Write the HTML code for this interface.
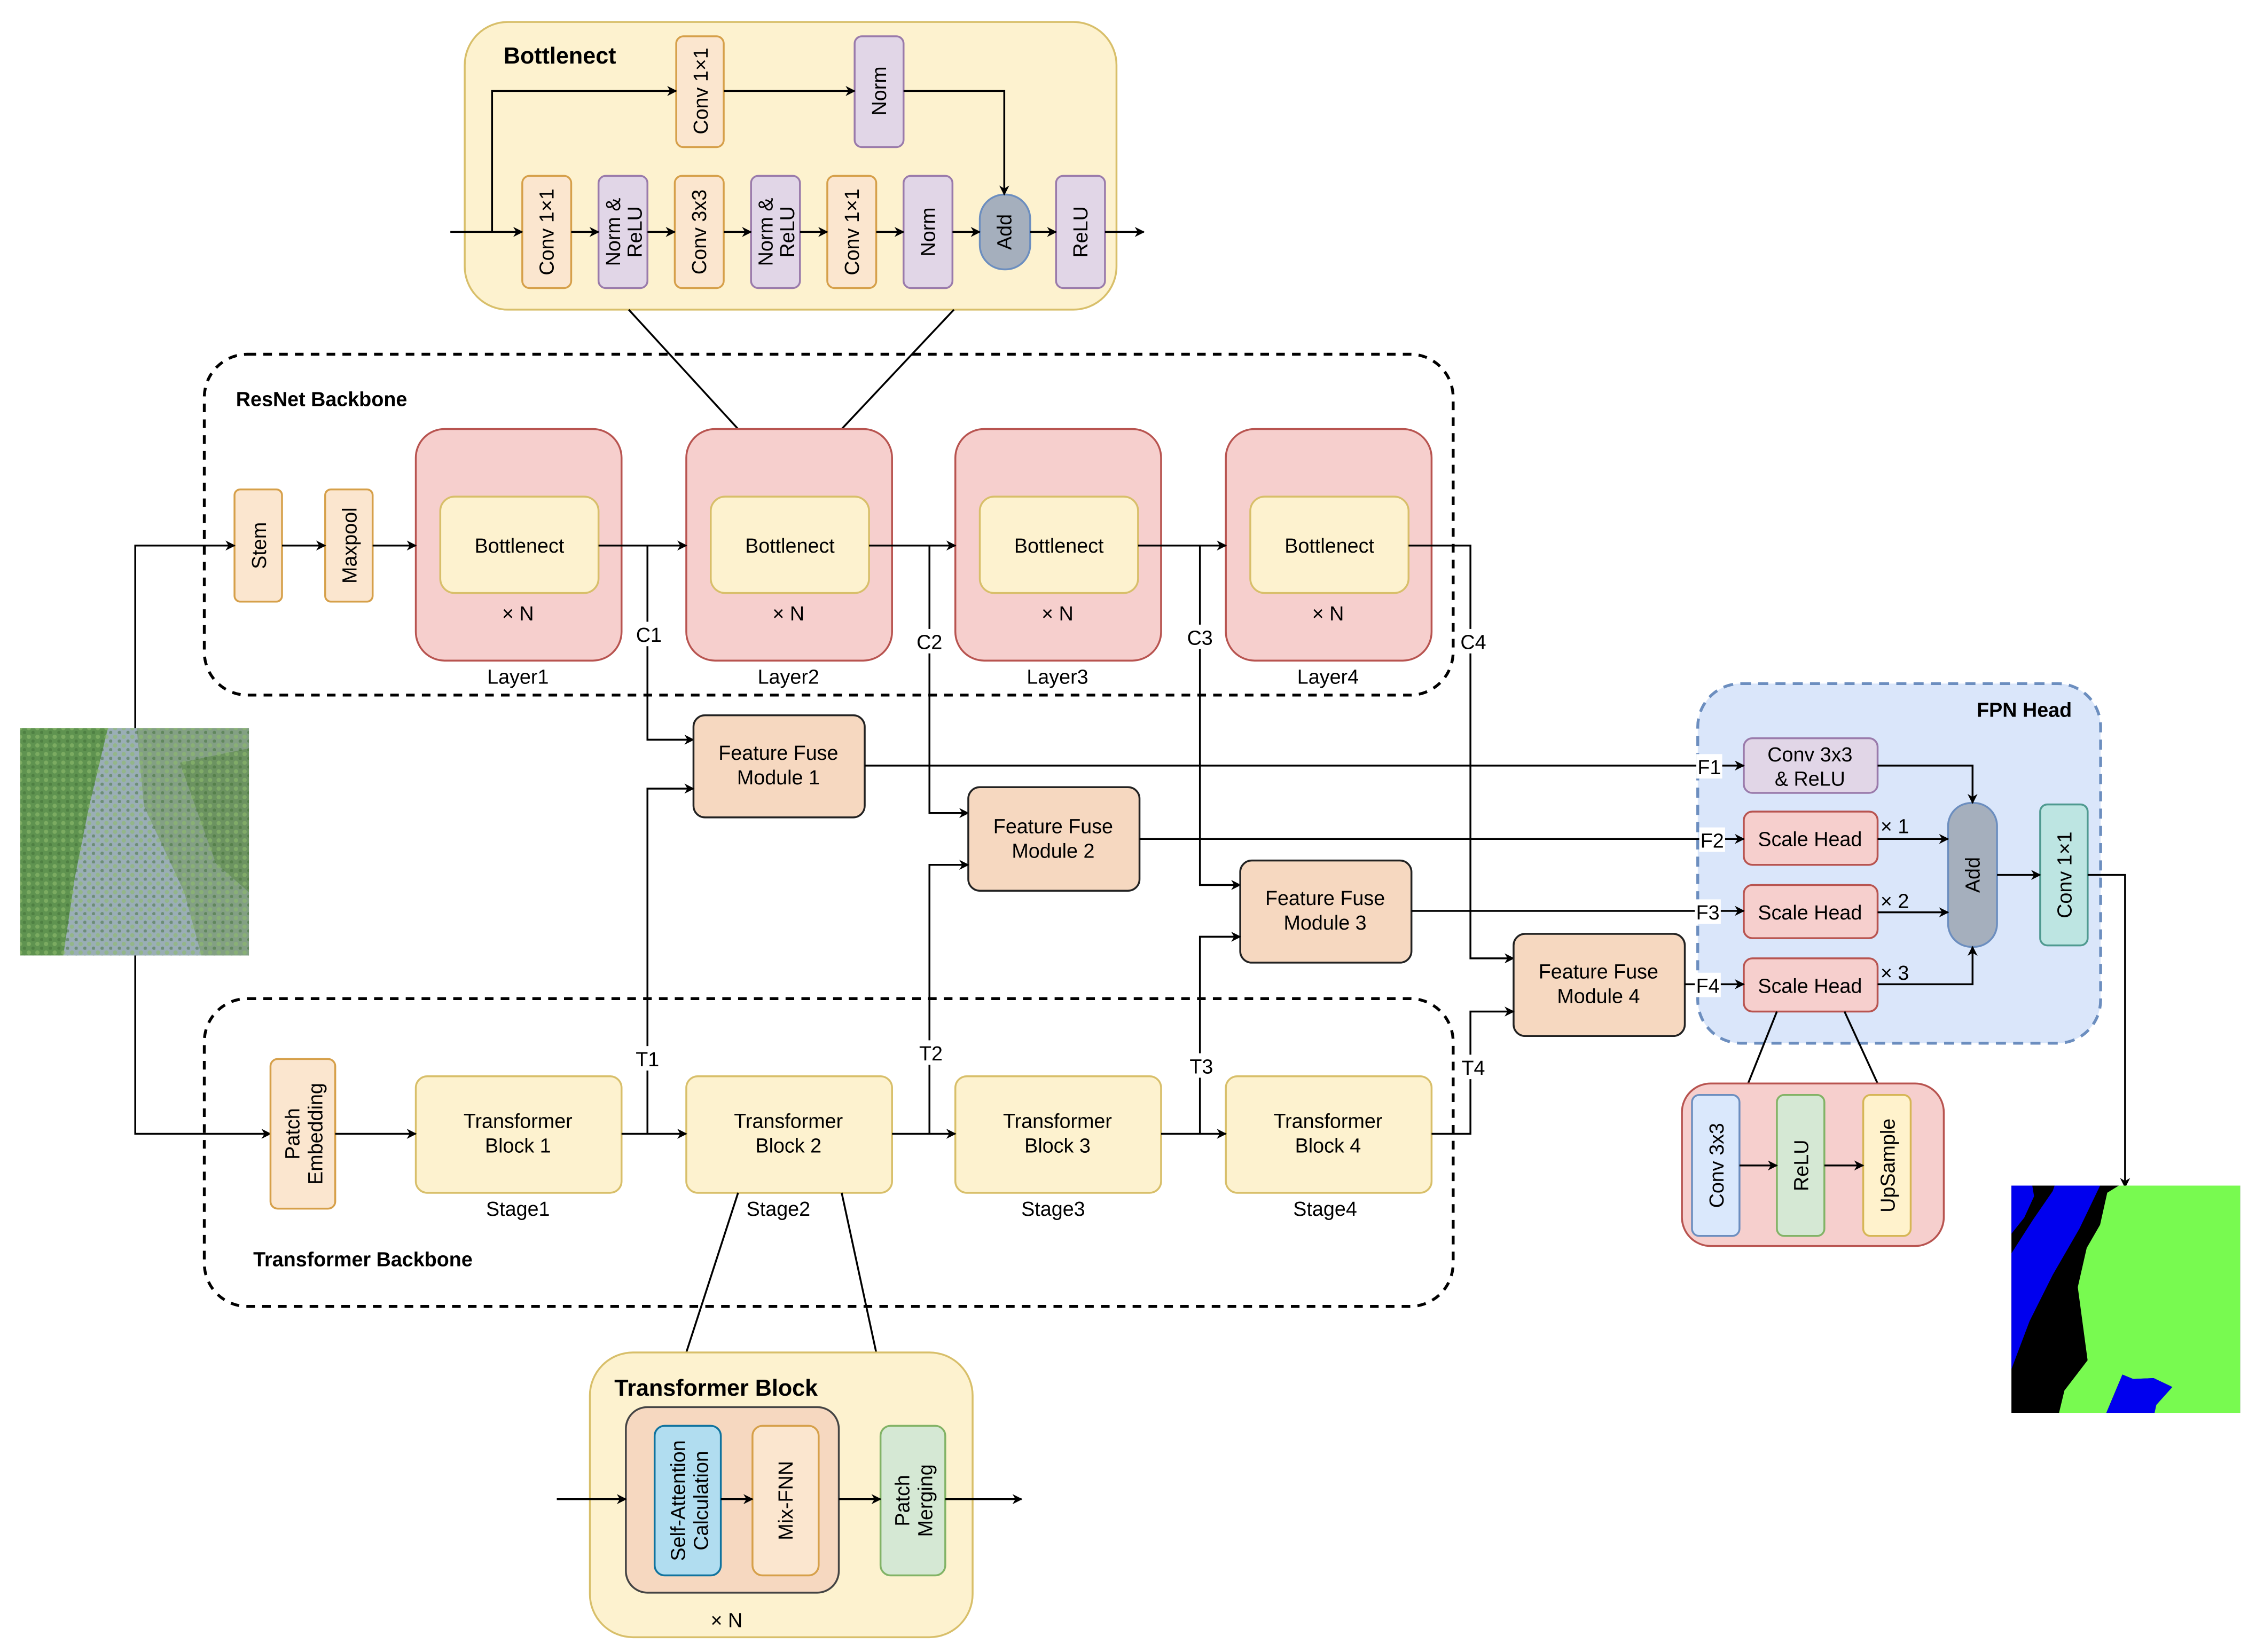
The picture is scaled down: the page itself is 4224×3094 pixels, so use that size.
<!DOCTYPE html>
<html><head><meta charset="utf-8"><style>
html,body{margin:0;padding:0;background:#fff;}
svg{display:block;}
text{font-family:"Liberation Sans",Arial,sans-serif;fill:#000;}
</style></head><body>
<svg width="4224" height="3094" viewBox="0 0 1568 1148" xmlns="http://www.w3.org/2000/svg">
<defs>
<marker id="a" viewBox="0 0 10 10" refX="9" refY="5" markerWidth="7" markerHeight="7" orient="auto" markerUnits="userSpaceOnUse">
<path d="M0,0 L10,5 L0,10 L3,5 Z" fill="#000"/></marker>
<linearGradient id="sat" x1="0" y1="0" x2="1" y2="1">
<stop offset="0" stop-color="#5a8e45"/><stop offset="1" stop-color="#6d9a5c"/></linearGradient>
<pattern id="dots" width="6" height="6" patternUnits="userSpaceOnUse">
<circle cx="2" cy="2" r="1.5" fill="#8dbb6c" opacity="0.6"/><circle cx="5" cy="5" r="1.2" fill="#3f6e35" opacity="0.5"/></pattern>
</defs>
<style>
.o{fill:#fbe6cf;stroke:#d6a04a;stroke-width:1.3}
.p{fill:#e1d6e7;stroke:#9a7bab;stroke-width:1.3}
.y{fill:#fdf2cf;stroke:#d8bf6a;stroke-width:1.3}
.r{fill:#f6cfcd;stroke:#b85450;stroke-width:1.3}
.f{fill:#f6d8c0;stroke:#222;stroke-width:1.3}
.l{fill:none;stroke:#000;stroke-width:1.3}
.la{fill:none;stroke:#000;stroke-width:1.3;marker-end:url(#a)}
.t{font-size:14px}
.b{font-weight:bold}
</style>

<!-- Bottlenect detail -->
<rect x="323" y="15" width="453" height="200" rx="30" fill="#fdf2cf" stroke="#d8bf6a" stroke-width="1.3"/>
<text x="350" y="44" class="b" font-size="16">Bottlenect</text>
<rect x="470" y="25" width="33" height="77" rx="5" class="o"/>
<text transform="translate(487,63) rotate(-90)" text-anchor="middle" dominant-baseline="central" class="t">Conv 1×1</text>
<rect x="594" y="25" width="34" height="77" rx="5" class="p"/>
<text transform="translate(611,63) rotate(-90)" text-anchor="middle" dominant-baseline="central" class="t">Norm</text>
<rect x="363" y="122" width="34" height="78" rx="5" class="o"/>
<text transform="translate(380,161) rotate(-90)" text-anchor="middle" dominant-baseline="central" class="t">Conv 1×1</text>
<rect x="416" y="122" width="34" height="78" rx="5" class="p"/>
<text transform="translate(433,161) rotate(-90)" text-anchor="middle" class="t"><tspan x="0" y="-2">Norm &amp;</tspan><tspan x="0" y="13">ReLU</tspan></text>
<rect x="469" y="122" width="34" height="78" rx="5" class="o"/>
<text transform="translate(486,161) rotate(-90)" text-anchor="middle" dominant-baseline="central" class="t">Conv 3x3</text>
<rect x="522" y="122" width="34" height="78" rx="5" class="p"/>
<text transform="translate(539,161) rotate(-90)" text-anchor="middle" class="t"><tspan x="0" y="-2">Norm &amp;</tspan><tspan x="0" y="13">ReLU</tspan></text>
<rect x="575" y="122" width="34" height="78" rx="5" class="o"/>
<text transform="translate(592,161) rotate(-90)" text-anchor="middle" dominant-baseline="central" class="t">Conv 1×1</text>
<rect x="628" y="122" width="34" height="78" rx="5" class="p"/>
<text transform="translate(645,161) rotate(-90)" text-anchor="middle" dominant-baseline="central" class="t">Norm</text>
<rect x="681" y="135" width="35" height="52" rx="17" fill="#a5afbd" stroke="#6c8ebf" stroke-width="1.3"/>
<text transform="translate(698,161) rotate(-90)" text-anchor="middle" dominant-baseline="central" class="t">Add</text>
<rect x="734" y="122" width="34" height="78" rx="5" class="p"/>
<text transform="translate(751,161) rotate(-90)" text-anchor="middle" dominant-baseline="central" class="t">ReLU</text>
<line x1="313" y1="161" x2="363" y2="161" class="la"/>
<line x1="397" y1="161" x2="416" y2="161" class="la"/>
<line x1="450" y1="161" x2="469" y2="161" class="la"/>
<line x1="503" y1="161" x2="522" y2="161" class="la"/>
<line x1="556" y1="161" x2="575" y2="161" class="la"/>
<line x1="609" y1="161" x2="628" y2="161" class="la"/>
<line x1="662" y1="161" x2="681" y2="161" class="la"/>
<line x1="716" y1="161" x2="734" y2="161" class="la"/>
<line x1="768" y1="161" x2="795" y2="161" class="la"/>
<polyline points="342,161 342,63 470,63" class="la"/>
<line x1="503" y1="63" x2="594" y2="63" class="la"/>
<polyline points="628,63 698,63 698,135" class="la"/>
<line x1="437" y1="215" x2="513" y2="298" class="l"/>
<line x1="663" y1="215" x2="585" y2="298" class="l"/>

<!-- ResNet backbone -->
<rect x="142" y="246" width="868" height="237" rx="30" fill="none" stroke="#000" stroke-width="2" stroke-dasharray="6,5"/>
<text x="164" y="282" class="b" font-size="14">ResNet Backbone</text>
<rect x="163" y="340" width="33" height="78" rx="4" class="o"/>
<text transform="translate(180,379) rotate(-90)" text-anchor="middle" dominant-baseline="central" class="t">Stem</text>
<rect x="226" y="340" width="33" height="78" rx="4" class="o"/>
<text transform="translate(243,379) rotate(-90)" text-anchor="middle" dominant-baseline="central" class="t">Maxpool</text>
<g>
<rect x="289" y="298" width="143" height="161" rx="20" class="r" stroke="#444"/>
<rect x="306" y="345" width="110" height="67" rx="10" class="y"/>
<text x="361" y="384" text-anchor="middle" class="t">Bottlenect</text>
<text x="360" y="431" text-anchor="middle" class="t">× N</text>
<text x="360" y="475" text-anchor="middle" class="t">Layer1</text>
<rect x="477" y="298" width="143" height="161" rx="20" class="r" stroke="#444"/>
<rect x="494" y="345" width="110" height="67" rx="10" class="y"/>
<text x="549" y="384" text-anchor="middle" class="t">Bottlenect</text>
<text x="548" y="431" text-anchor="middle" class="t">× N</text>
<text x="548" y="475" text-anchor="middle" class="t">Layer2</text>
<rect x="664" y="298" width="143" height="161" rx="20" class="r" stroke="#444"/>
<rect x="681" y="345" width="110" height="67" rx="10" class="y"/>
<text x="736" y="384" text-anchor="middle" class="t">Bottlenect</text>
<text x="735" y="431" text-anchor="middle" class="t">× N</text>
<text x="735" y="475" text-anchor="middle" class="t">Layer3</text>
<rect x="852" y="298" width="143" height="161" rx="20" class="r" stroke="#444"/>
<rect x="869" y="345" width="110" height="67" rx="10" class="y"/>
<text x="924" y="384" text-anchor="middle" class="t">Bottlenect</text>
<text x="923" y="431" text-anchor="middle" class="t">× N</text>
<text x="923" y="475" text-anchor="middle" class="t">Layer4</text>
</g>
<line x1="196" y1="379" x2="226" y2="379" class="la"/>
<line x1="259" y1="379" x2="289" y2="379" class="la"/>
<line x1="416" y1="379" x2="477" y2="379" class="la"/>
<line x1="604" y1="379" x2="664" y2="379" class="la"/>
<line x1="791" y1="379" x2="852" y2="379" class="la"/>
<polyline points="979,379 1022,379 1022,666 1052,666" class="la"/>
<polyline points="450,379 450,514 482,514" class="la"/>
<polyline points="646,379 646,565 673,565" class="la"/>
<polyline points="834,379 834,615 862,615" class="la"/>
<rect x="440" y="432" width="22" height="17" fill="#fff"/><text x="451" y="446" text-anchor="middle" class="t">C1</text>
<rect x="635" y="437" width="22" height="17" fill="#fff"/><text x="646" y="451" text-anchor="middle" class="t">C2</text>
<rect x="823" y="434" width="22" height="17" fill="#fff"/><text x="834" y="448" text-anchor="middle" class="t">C3</text>
<rect x="1013" y="437" width="22" height="17" fill="#fff"/><text x="1024" y="451" text-anchor="middle" class="t">C4</text>

<!-- input image -->
<rect x="14" y="506" width="159" height="158" fill="#5f9350"/>
<path d="M75,506 L173,506 L173,664 L44,664 L52,610 L62,560 Z" fill="#9aaeb6"/>
<path d="M95,506 L173,506 L173,664 L140,664 L128,620 L100,560 Z" fill="#7d9c78" opacity="0.8"/>
<path d="M125,530 L173,520 L173,620 L150,600 Z" fill="#5d8a4a" opacity="0.6"/>
<rect x="14" y="506" width="159" height="158" fill="url(#dots)"/>
<polyline points="94,506 94,379 163,379" class="la"/>
<polyline points="94,664 94,788 188,788" class="la"/>

<!-- Feature fuse modules -->
<rect x="482" y="497" width="119" height="71" rx="8" class="f"/>
<text x="541" y="528" text-anchor="middle" class="t">Feature Fuse</text><text x="541" y="545" text-anchor="middle" class="t">Module 1</text>
<rect x="673" y="547" width="119" height="72" rx="8" class="f"/>
<text x="732" y="579" text-anchor="middle" class="t">Feature Fuse</text><text x="732" y="596" text-anchor="middle" class="t">Module 2</text>
<rect x="862" y="598" width="119" height="71" rx="8" class="f"/>
<text x="921" y="629" text-anchor="middle" class="t">Feature Fuse</text><text x="921" y="646" text-anchor="middle" class="t">Module 3</text>
<rect x="1052" y="649" width="119" height="71" rx="8" class="f"/>
<text x="1111" y="680" text-anchor="middle" class="t">Feature Fuse</text><text x="1111" y="697" text-anchor="middle" class="t">Module 4</text>

<!-- FPN head -->
<rect x="1180" y="475" width="280" height="250" rx="30" fill="#dae6fa" stroke="#6c8ebf" stroke-width="2" stroke-dasharray="7,5"/>
<text x="1440" y="498" text-anchor="end" class="b" font-size="14">FPN Head</text>
<rect x="1212" y="513" width="93" height="38" rx="6" class="p"/>
<text x="1258" y="529" text-anchor="middle" class="t">Conv 3x3</text><text x="1258" y="546" text-anchor="middle" class="t">&amp; ReLU</text>
<rect x="1212" y="564" width="93" height="37" rx="6" class="r"/>
<text x="1258" y="588" text-anchor="middle" class="t">Scale Head</text>
<rect x="1212" y="615" width="93" height="37" rx="6" class="r"/>
<text x="1258" y="639" text-anchor="middle" class="t">Scale Head</text>
<rect x="1212" y="666" width="93" height="37" rx="6" class="r"/>
<text x="1258" y="690" text-anchor="middle" class="t">Scale Head</text>
<rect x="1354" y="558" width="34" height="100" rx="16" fill="#a5afbd" stroke="#6c8ebf" stroke-width="1.3"/>
<text transform="translate(1371,608) rotate(-90)" text-anchor="middle" dominant-baseline="central" class="t">Add</text>
<rect x="1418" y="559" width="33" height="98" rx="5" fill="#bde5e2" stroke="#4f9a90" stroke-width="1.3"/>
<text transform="translate(1435,608) rotate(-90)" text-anchor="middle" dominant-baseline="central" class="t">Conv 1×1</text>
<polyline points="1305,532 1371,532 1371,558" class="la"/>
<line x1="1305" y1="583" x2="1354" y2="583" class="la"/>
<line x1="1305" y1="634" x2="1354" y2="634" class="la"/>
<polyline points="1305,684 1371,684 1371,658" class="la"/>
<line x1="1388" y1="608" x2="1418" y2="608" class="la"/>
<polyline points="1451,608 1477,608 1477,825" class="la"/>
<text x="1307" y="579" class="t" font-size="13">× 1</text>
<text x="1307" y="631" class="t" font-size="13">× 2</text>
<text x="1307" y="681" class="t" font-size="13">× 3</text>

<!-- FFM -> FPN -->
<line x1="601" y1="532" x2="1212" y2="532" class="la"/>
<line x1="792" y1="583" x2="1212" y2="583" class="la"/>
<line x1="981" y1="633" x2="1212" y2="633" class="la"/>
<line x1="1171" y1="684" x2="1212" y2="684" class="la"/>
<rect x="1179" y="524" width="18" height="17" fill="#fff"/><text x="1188" y="538" text-anchor="middle" class="t">F1</text>
<rect x="1181" y="575" width="18" height="17" fill="#fff"/><text x="1190" y="589" text-anchor="middle" class="t">F2</text>
<rect x="1178" y="625" width="18" height="17" fill="#fff"/><text x="1187" y="639" text-anchor="middle" class="t">F3</text>
<rect x="1178" y="676" width="18" height="17" fill="#fff"/><text x="1187" y="690" text-anchor="middle" class="t">F4</text>

<!-- scale head detail -->
<line x1="1235" y1="703" x2="1215" y2="753" class="l"/>
<line x1="1282" y1="703" x2="1305" y2="753" class="l"/>
<rect x="1169" y="753" width="182" height="113" rx="20" class="r"/>
<rect x="1176" y="761" width="33" height="98" rx="5" fill="#dae8fc" stroke="#6c8ebf" stroke-width="1.3"/>
<text transform="translate(1193,810) rotate(-90)" text-anchor="middle" dominant-baseline="central" class="t">Conv 3x3</text>
<rect x="1235" y="761" width="33" height="98" rx="5" fill="#d5e8d4" stroke="#82b366" stroke-width="1.3"/>
<text transform="translate(1252,810) rotate(-90)" text-anchor="middle" dominant-baseline="central" class="t">ReLU</text>
<rect x="1295" y="761" width="33" height="98" rx="5" fill="#fff2cc" stroke="#d6b656" stroke-width="1.3"/>
<text transform="translate(1312,810) rotate(-90)" text-anchor="middle" dominant-baseline="central" class="t">UpSample</text>
<line x1="1209" y1="810" x2="1235" y2="810" class="la"/>
<line x1="1268" y1="810" x2="1295" y2="810" class="la"/>

<!-- output segmentation -->
<svg x="1398" y="824" width="159" height="158" viewBox="18 60 1282 1275" preserveAspectRatio="none">
<rect x="18" y="60" width="1282" height="1275" fill="#000"/>
<polygon points="18,60 135,60 145,120 90,240 18,330" fill="#0000ee"/>
<polygon points="260,60 515,60 400,300 250,560 120,820 18,1090 18,440 140,250 250,90" fill="#0000ee"/>
<polygon points="620,60 1300,60 1300,1335 820,1335 830,1290 920,1190 815,1140 700,1145 640,1120 550,1335 285,1335 315,1210 445,1040 390,630 440,410 515,280 555,100" fill="#78fa50"/>
<polygon points="640,1120 700,1145 815,1140 920,1190 830,1290 820,1335 550,1335" fill="#0000ee"/>
</svg>

<!-- Transformer backbone -->
<rect x="142" y="694" width="868" height="214" rx="30" fill="none" stroke="#000" stroke-width="2" stroke-dasharray="6,5"/>
<text x="176" y="880" class="b" font-size="14">Transformer Backbone</text>
<rect x="188" y="736" width="45" height="104" rx="5" class="o"/>
<text transform="translate(210,788) rotate(-90)" text-anchor="middle" class="t"><tspan x="0" y="-2">Patch</tspan><tspan x="0" y="14">Embedding</tspan></text>
<rect x="289" y="748" width="143" height="81" rx="8" class="y"/>
<text x="360" y="784" text-anchor="middle" class="t">Transformer</text><text x="360" y="801" text-anchor="middle" class="t">Block 1</text>
<rect x="477" y="748" width="143" height="81" rx="8" class="y"/>
<text x="548" y="784" text-anchor="middle" class="t">Transformer</text><text x="548" y="801" text-anchor="middle" class="t">Block 2</text>
<rect x="664" y="748" width="143" height="81" rx="8" class="y"/>
<text x="735" y="784" text-anchor="middle" class="t">Transformer</text><text x="735" y="801" text-anchor="middle" class="t">Block 3</text>
<rect x="852" y="748" width="143" height="81" rx="8" class="y"/>
<text x="923" y="784" text-anchor="middle" class="t">Transformer</text><text x="923" y="801" text-anchor="middle" class="t">Block 4</text>
<text x="360" y="845" text-anchor="middle" class="t">Stage1</text>
<text x="541" y="845" text-anchor="middle" class="t">Stage2</text>
<text x="732" y="845" text-anchor="middle" class="t">Stage3</text>
<text x="921" y="845" text-anchor="middle" class="t">Stage4</text>
<line x1="233" y1="788" x2="289" y2="788" class="la"/>
<line x1="432" y1="788" x2="477" y2="788" class="la"/>
<line x1="620" y1="788" x2="664" y2="788" class="la"/>
<line x1="807" y1="788" x2="852" y2="788" class="la"/>
<polyline points="995,788 1022,788 1022,703 1052,703" class="la"/>
<polyline points="450,788 450,548 482,548" class="la"/>
<polyline points="646,788 646,601 673,601" class="la"/>
<polyline points="834,788 834,651 862,651" class="la"/>
<rect x="440" y="727" width="22" height="17" fill="#fff"/><text x="450" y="741" text-anchor="middle" class="t">T1</text>
<rect x="636" y="723" width="22" height="17" fill="#fff"/><text x="647" y="737" text-anchor="middle" class="t">T2</text>
<rect x="824" y="732" width="22" height="17" fill="#fff"/><text x="835" y="746" text-anchor="middle" class="t">T3</text>
<rect x="1013" y="733" width="22" height="17" fill="#fff"/><text x="1024" y="747" text-anchor="middle" class="t">T4</text>

<!-- Transformer block detail -->
<line x1="513" y1="829" x2="477" y2="940" class="l"/>
<line x1="585" y1="829" x2="609" y2="940" class="l"/>
<rect x="410" y="940" width="266" height="198" rx="30" fill="#fdf2cf" stroke="#d8bf6a" stroke-width="1.3"/>
<text x="427" y="970" class="b" font-size="16">Transformer Block</text>
<rect x="435" y="978" width="148" height="129" rx="15" fill="#f6d8c0" stroke="#444" stroke-width="1.3"/>
<rect x="455" y="991" width="46" height="104" rx="7" fill="#b1ddf0" stroke="#10739e" stroke-width="1.3"/>
<text transform="translate(478,1043) rotate(-90)" text-anchor="middle" class="t"><tspan x="0" y="-2">Self-Attention</tspan><tspan x="0" y="14">Calculation</tspan></text>
<rect x="523" y="991" width="46" height="104" rx="7" class="o"/>
<text transform="translate(546,1043) rotate(-90)" text-anchor="middle" dominant-baseline="central" class="t">Mix-FNN</text>
<rect x="612" y="991" width="45" height="104" rx="7" fill="#d5e8d4" stroke="#82b366" stroke-width="1.3"/>
<text transform="translate(634,1043) rotate(-90)" text-anchor="middle" class="t"><tspan x="0" y="-2">Patch</tspan><tspan x="0" y="14">Merging</tspan></text>
<line x1="387" y1="1042" x2="435" y2="1042" class="la"/>
<line x1="501" y1="1042" x2="523" y2="1042" class="la"/>
<line x1="583" y1="1042" x2="612" y2="1042" class="la"/>
<line x1="657" y1="1042" x2="710" y2="1042" class="la"/>
<text x="505" y="1131" text-anchor="middle" class="t">× N</text>
</svg>
</body></html>
